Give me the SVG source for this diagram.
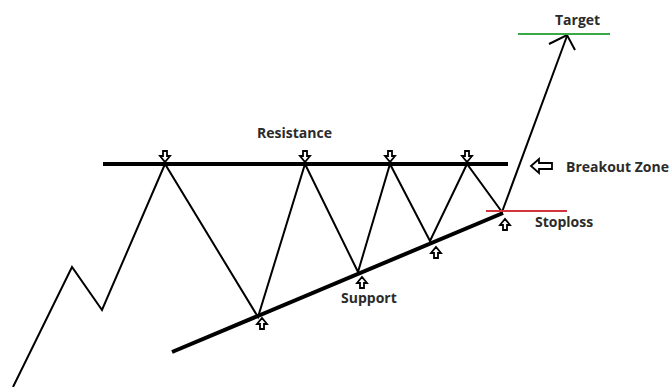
<svg xmlns="http://www.w3.org/2000/svg" width="672" height="387" viewBox="0 0 672 387">
<style>
.lbl{font-family:"Open Sans","Liberation Sans",sans-serif;font-weight:bold;font-size:14px;fill:#2b2b2b}
.thin{fill:none;stroke:#000;stroke-width:2;stroke-linejoin:miter}
.thick{fill:none;stroke:#000;stroke-width:4}
.ha{fill:#fff;stroke:#000;stroke-width:1.8;stroke-linejoin:miter}
</style>
<defs>
<path id="dn" d="M-2,0 h4 v5 h3 l-5,6 l-5,-6 h3 z"/>
<path id="up" d="M-2,11 h4 v-5 h3 l-5,-6 l-5,6 h3 z"/>
</defs>
<rect width="672" height="387" fill="#fff"/>
<g id="connectors">
<polyline class="thin" points="13,387 72,267 102,310 165,164 258,317 305,164 358,272 390,164 430,241 467,164 502,212 567,36"/>
<polyline class="thin" points="549,44 567,35 575,50"/>
</g>
<g id="resistance">
<line class="thick" x1="103" y1="164" x2="508" y2="164"/>
<text class="lbl" x="257" y="138">Resistance</text>
<use href="#dn" class="ha" x="165" y="151"/>
<use href="#dn" class="ha" x="305" y="151"/>
<use href="#dn" class="ha" x="390" y="151"/>
<use href="#dn" class="ha" x="467" y="151"/>
</g>
<g id="support">
<line class="thick" x1="172" y1="352" x2="503" y2="213"/>
<text class="lbl" x="341" y="303">Support</text>
<use href="#up" class="ha" x="262" y="318"/>
<use href="#up" class="ha" x="362" y="277"/>
<use href="#up" class="ha" x="436" y="247"/>
<use href="#up" class="ha" x="505" y="219"/>
</g>
<g id="breakout">
<path class="ha" d="M531,166 l8,-7 v4 h13 v6 h-13 v4 z"/>
<text class="lbl" x="566" y="172">Breakout Zone</text>
</g>
<g id="stoploss">
<line x1="486" y1="211" x2="567" y2="211" stroke="#d4343c" stroke-width="2"/>
<text class="lbl" x="535" y="227">Stoploss</text>
</g>
<g id="target">
<line x1="518" y1="34" x2="610" y2="34" stroke="#3aa845" stroke-width="2"/>
<text class="lbl" x="555" y="25">Target</text>
</g>
</svg>
